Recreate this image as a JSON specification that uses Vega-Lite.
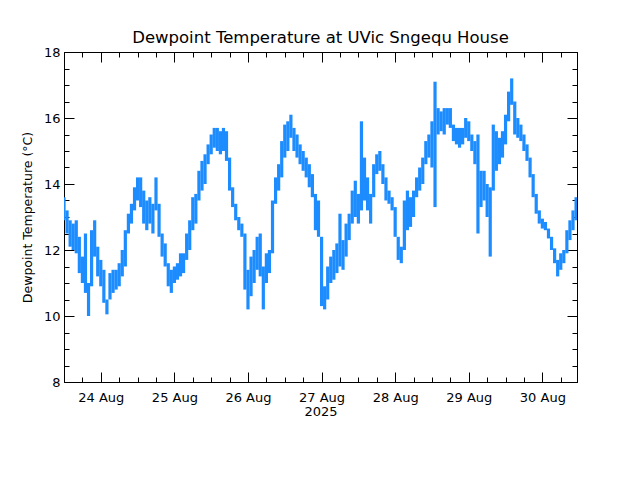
{
  "$schema": "https://vega.github.io/schema/vega-lite/v6.json",
  "autosize": "none",
  "width": 513,
  "height": 330,
  "padding": {"left": 64, "top": 52, "right": 63, "bottom": 98},
  "background": "white",
  "config": {
    "view": {"stroke": "black", "strokeWidth": 1},
    "font": "DejaVu Sans",
    "axis": {"labelFont": "DejaVu Sans", "titleFont": "DejaVu Sans", "labelFontSize": 13, "titleFontSize": 13, "titleFontWeight": "normal", "labelColor": "black", "titleColor": "black", "domainColor": "black", "tickColor": "black", "grid": false}
  },
  "title": {"text": "Dewpoint Temperature at UVic Sngequ House", "font": "DejaVu Sans", "fontSize": 16.5, "fontWeight": "normal", "color": "black", "offset": 0, "anchor": "middle"},
  "data": {"values": [
    {"t":"2025-08-23T12:00","lo":12.9,"hi":13.6},
    {"t":"2025-08-23T13:00","lo":12.5,"hi":13.2},
    {"t":"2025-08-23T14:00","lo":12.1,"hi":12.9},
    {"t":"2025-08-23T15:00","lo":12.0,"hi":12.8},
    {"t":"2025-08-23T16:00","lo":11.9,"hi":12.9},
    {"t":"2025-08-23T17:00","lo":11.3,"hi":12.4},
    {"t":"2025-08-23T18:00","lo":11.0,"hi":11.8},
    {"t":"2025-08-23T19:00","lo":10.7,"hi":12.5},
    {"t":"2025-08-23T20:00","lo":10.0,"hi":11.0},
    {"t":"2025-08-23T21:00","lo":10.9,"hi":12.6},
    {"t":"2025-08-23T22:00","lo":11.8,"hi":12.9},
    {"t":"2025-08-23T23:00","lo":11.2,"hi":12.1},
    {"t":"2025-08-24T00:00","lo":10.9,"hi":11.7},
    {"t":"2025-08-24T01:00","lo":10.4,"hi":11.4},
    {"t":"2025-08-24T02:00","lo":10.05,"hi":10.5},
    {"t":"2025-08-24T03:00","lo":10.5,"hi":11.3},
    {"t":"2025-08-24T04:00","lo":10.7,"hi":11.4},
    {"t":"2025-08-24T05:00","lo":10.8,"hi":11.4},
    {"t":"2025-08-24T06:00","lo":10.9,"hi":11.6},
    {"t":"2025-08-24T07:00","lo":11.2,"hi":12.0},
    {"t":"2025-08-24T08:00","lo":11.5,"hi":12.6},
    {"t":"2025-08-24T09:00","lo":12.5,"hi":13.1},
    {"t":"2025-08-24T10:00","lo":12.8,"hi":13.4},
    {"t":"2025-08-24T11:00","lo":13.2,"hi":13.9},
    {"t":"2025-08-24T12:00","lo":13.5,"hi":14.2},
    {"t":"2025-08-24T13:00","lo":13.3,"hi":14.2},
    {"t":"2025-08-24T14:00","lo":12.8,"hi":13.8},
    {"t":"2025-08-24T15:00","lo":12.6,"hi":13.5},
    {"t":"2025-08-24T16:00","lo":12.8,"hi":13.6},
    {"t":"2025-08-24T17:00","lo":12.5,"hi":13.4},
    {"t":"2025-08-24T18:00","lo":13.2,"hi":14.2},
    {"t":"2025-08-24T19:00","lo":12.4,"hi":13.4},
    {"t":"2025-08-24T20:00","lo":11.8,"hi":12.5},
    {"t":"2025-08-24T21:00","lo":11.5,"hi":12.2},
    {"t":"2025-08-24T22:00","lo":10.9,"hi":11.6},
    {"t":"2025-08-24T23:00","lo":10.7,"hi":11.4},
    {"t":"2025-08-25T00:00","lo":11.0,"hi":11.5},
    {"t":"2025-08-25T01:00","lo":11.1,"hi":11.6},
    {"t":"2025-08-25T02:00","lo":11.2,"hi":11.9},
    {"t":"2025-08-25T03:00","lo":11.3,"hi":11.9},
    {"t":"2025-08-25T04:00","lo":11.7,"hi":12.5},
    {"t":"2025-08-25T05:00","lo":12.0,"hi":12.9},
    {"t":"2025-08-25T06:00","lo":12.6,"hi":13.6},
    {"t":"2025-08-25T07:00","lo":12.8,"hi":13.7},
    {"t":"2025-08-25T08:00","lo":13.5,"hi":14.4},
    {"t":"2025-08-25T09:00","lo":13.8,"hi":14.7},
    {"t":"2025-08-25T10:00","lo":14.0,"hi":14.9},
    {"t":"2025-08-25T11:00","lo":14.6,"hi":15.2},
    {"t":"2025-08-25T12:00","lo":14.9,"hi":15.5},
    {"t":"2025-08-25T13:00","lo":15.1,"hi":15.7},
    {"t":"2025-08-25T14:00","lo":15.0,"hi":15.7},
    {"t":"2025-08-25T15:00","lo":14.9,"hi":15.6},
    {"t":"2025-08-25T16:00","lo":15.0,"hi":15.7},
    {"t":"2025-08-25T17:00","lo":14.7,"hi":15.6},
    {"t":"2025-08-25T18:00","lo":13.8,"hi":14.8},
    {"t":"2025-08-25T19:00","lo":13.3,"hi":13.9},
    {"t":"2025-08-25T20:00","lo":12.9,"hi":13.4},
    {"t":"2025-08-25T21:00","lo":12.6,"hi":13.0},
    {"t":"2025-08-25T22:00","lo":12.4,"hi":12.8},
    {"t":"2025-08-25T23:00","lo":10.8,"hi":12.5},
    {"t":"2025-08-26T00:00","lo":10.2,"hi":11.4},
    {"t":"2025-08-26T01:00","lo":10.6,"hi":11.8},
    {"t":"2025-08-26T02:00","lo":11.0,"hi":12.0},
    {"t":"2025-08-26T03:00","lo":11.4,"hi":12.4},
    {"t":"2025-08-26T04:00","lo":11.2,"hi":12.5},
    {"t":"2025-08-26T05:00","lo":10.2,"hi":11.5},
    {"t":"2025-08-26T06:00","lo":11.0,"hi":11.9},
    {"t":"2025-08-26T07:00","lo":11.3,"hi":12.0},
    {"t":"2025-08-26T08:00","lo":11.9,"hi":13.5},
    {"t":"2025-08-26T09:00","lo":13.4,"hi":14.2},
    {"t":"2025-08-26T10:00","lo":13.8,"hi":14.6},
    {"t":"2025-08-26T11:00","lo":14.2,"hi":15.3},
    {"t":"2025-08-26T12:00","lo":14.8,"hi":15.8},
    {"t":"2025-08-26T13:00","lo":15.0,"hi":15.9},
    {"t":"2025-08-26T14:00","lo":15.4,"hi":16.1},
    {"t":"2025-08-26T15:00","lo":15.0,"hi":15.7},
    {"t":"2025-08-26T16:00","lo":14.8,"hi":15.5},
    {"t":"2025-08-26T17:00","lo":14.6,"hi":15.2},
    {"t":"2025-08-26T18:00","lo":14.4,"hi":15.0},
    {"t":"2025-08-26T19:00","lo":14.2,"hi":14.8},
    {"t":"2025-08-26T20:00","lo":13.9,"hi":14.6},
    {"t":"2025-08-26T21:00","lo":13.6,"hi":14.3},
    {"t":"2025-08-26T22:00","lo":12.6,"hi":13.7},
    {"t":"2025-08-26T23:00","lo":12.4,"hi":13.5},
    {"t":"2025-08-27T00:00","lo":10.3,"hi":12.4},
    {"t":"2025-08-27T01:00","lo":10.2,"hi":10.9},
    {"t":"2025-08-27T02:00","lo":10.5,"hi":11.5},
    {"t":"2025-08-27T03:00","lo":11.0,"hi":11.8},
    {"t":"2025-08-27T04:00","lo":11.1,"hi":12.0},
    {"t":"2025-08-27T05:00","lo":11.3,"hi":12.2},
    {"t":"2025-08-27T06:00","lo":11.5,"hi":13.1},
    {"t":"2025-08-27T07:00","lo":11.4,"hi":12.3},
    {"t":"2025-08-27T08:00","lo":11.8,"hi":12.8},
    {"t":"2025-08-27T09:00","lo":12.3,"hi":13.1},
    {"t":"2025-08-27T10:00","lo":12.8,"hi":13.8},
    {"t":"2025-08-27T11:00","lo":13.0,"hi":14.1},
    {"t":"2025-08-27T12:00","lo":12.8,"hi":13.7},
    {"t":"2025-08-27T13:00","lo":13.2,"hi":15.9},
    {"t":"2025-08-27T14:00","lo":13.5,"hi":14.8},
    {"t":"2025-08-27T15:00","lo":13.2,"hi":14.2},
    {"t":"2025-08-27T16:00","lo":12.8,"hi":13.7},
    {"t":"2025-08-27T17:00","lo":13.6,"hi":14.6},
    {"t":"2025-08-27T18:00","lo":14.3,"hi":14.9},
    {"t":"2025-08-27T19:00","lo":14.4,"hi":15.0},
    {"t":"2025-08-27T20:00","lo":14.0,"hi":14.6},
    {"t":"2025-08-27T21:00","lo":13.5,"hi":14.2},
    {"t":"2025-08-27T22:00","lo":13.4,"hi":13.8},
    {"t":"2025-08-27T23:00","lo":13.2,"hi":13.6},
    {"t":"2025-08-28T00:00","lo":12.4,"hi":13.3},
    {"t":"2025-08-28T01:00","lo":11.7,"hi":12.4},
    {"t":"2025-08-28T02:00","lo":11.6,"hi":12.1},
    {"t":"2025-08-28T03:00","lo":12.0,"hi":13.5},
    {"t":"2025-08-28T04:00","lo":12.6,"hi":13.8},
    {"t":"2025-08-28T05:00","lo":12.7,"hi":13.6},
    {"t":"2025-08-28T06:00","lo":13.0,"hi":13.8},
    {"t":"2025-08-28T07:00","lo":13.6,"hi":14.2},
    {"t":"2025-08-28T08:00","lo":13.8,"hi":14.5},
    {"t":"2025-08-28T09:00","lo":14.0,"hi":14.8},
    {"t":"2025-08-28T10:00","lo":14.6,"hi":15.3},
    {"t":"2025-08-28T11:00","lo":14.8,"hi":15.5},
    {"t":"2025-08-28T12:00","lo":14.5,"hi":15.9},
    {"t":"2025-08-28T13:00","lo":13.3,"hi":17.1},
    {"t":"2025-08-28T14:00","lo":15.5,"hi":16.3},
    {"t":"2025-08-28T15:00","lo":15.6,"hi":16.2},
    {"t":"2025-08-28T16:00","lo":15.5,"hi":16.3},
    {"t":"2025-08-28T17:00","lo":15.8,"hi":16.3},
    {"t":"2025-08-28T18:00","lo":15.7,"hi":16.3},
    {"t":"2025-08-28T19:00","lo":15.3,"hi":15.8},
    {"t":"2025-08-28T20:00","lo":15.2,"hi":15.7},
    {"t":"2025-08-28T21:00","lo":15.1,"hi":15.7},
    {"t":"2025-08-28T22:00","lo":15.2,"hi":15.7},
    {"t":"2025-08-28T23:00","lo":15.4,"hi":16.0},
    {"t":"2025-08-29T00:00","lo":15.3,"hi":15.9},
    {"t":"2025-08-29T01:00","lo":15.0,"hi":15.5},
    {"t":"2025-08-29T02:00","lo":14.6,"hi":15.3},
    {"t":"2025-08-29T03:00","lo":12.5,"hi":15.5},
    {"t":"2025-08-29T04:00","lo":13.3,"hi":14.4},
    {"t":"2025-08-29T05:00","lo":13.5,"hi":14.4},
    {"t":"2025-08-29T06:00","lo":13.0,"hi":14.0},
    {"t":"2025-08-29T07:00","lo":11.8,"hi":13.9},
    {"t":"2025-08-29T08:00","lo":13.8,"hi":15.8},
    {"t":"2025-08-29T09:00","lo":14.4,"hi":15.6},
    {"t":"2025-08-29T10:00","lo":14.6,"hi":15.4},
    {"t":"2025-08-29T11:00","lo":14.8,"hi":15.6},
    {"t":"2025-08-29T12:00","lo":15.2,"hi":16.1},
    {"t":"2025-08-29T13:00","lo":15.9,"hi":16.8},
    {"t":"2025-08-29T14:00","lo":16.4,"hi":17.2},
    {"t":"2025-08-29T15:00","lo":15.5,"hi":16.5},
    {"t":"2025-08-29T16:00","lo":15.4,"hi":16.0},
    {"t":"2025-08-29T17:00","lo":15.3,"hi":15.8},
    {"t":"2025-08-29T18:00","lo":15.0,"hi":15.5},
    {"t":"2025-08-29T19:00","lo":14.7,"hi":15.2},
    {"t":"2025-08-29T20:00","lo":14.2,"hi":14.8},
    {"t":"2025-08-29T21:00","lo":13.6,"hi":14.3},
    {"t":"2025-08-29T22:00","lo":13.1,"hi":13.7},
    {"t":"2025-08-29T23:00","lo":12.8,"hi":13.2},
    {"t":"2025-08-30T00:00","lo":12.65,"hi":12.95},
    {"t":"2025-08-30T01:00","lo":12.6,"hi":12.85},
    {"t":"2025-08-30T02:00","lo":12.35,"hi":12.65},
    {"t":"2025-08-30T03:00","lo":12.0,"hi":12.4},
    {"t":"2025-08-30T04:00","lo":11.6,"hi":12.05},
    {"t":"2025-08-30T05:00","lo":11.2,"hi":11.7},
    {"t":"2025-08-30T06:00","lo":11.4,"hi":11.9},
    {"t":"2025-08-30T07:00","lo":11.6,"hi":12.0},
    {"t":"2025-08-30T08:00","lo":11.9,"hi":12.6},
    {"t":"2025-08-30T09:00","lo":12.3,"hi":12.9},
    {"t":"2025-08-30T10:00","lo":12.6,"hi":13.2},
    {"t":"2025-08-30T11:00","lo":12.9,"hi":13.6}
  ]},
  "layer": [
    {
      "mark": {"type": "rule", "strokeWidth": 3.2, "color": "#1C8CFF", "clip": true},
      "encoding": {
        "x": {"field": "t", "type": "temporal",
          "scale": {"domain": [{"year": 2025, "month": 8, "date": 23, "hours": 12}, {"year": 2025, "month": 8, "date": 30, "hours": 11, "minutes": 18}]},
          "axis": {"orient": "bottom", "tickCount": {"interval": "day", "step": 1}, "format": "%d %b", "labelOverlap": false, "labelFlush": false,
            "tickSize": -10, "labelPadding": 19, "title": "2025", "titlePadding": 1}},
        "y": {"field": "lo", "type": "quantitative", "scale": {"domain": [8, 18], "nice": false, "zero": false},
          "axis": {"orient": "left", "values": [8, 10, 12, 14, 16, 18], "tickSize": -10, "labelPadding": 14,
            "title": "Dewpoint Temperature (°C)", "titleFontSize": 12.5, "titlePadding": 9}},
        "y2": {"field": "hi"}
      }
    },
    {
      "mark": {"type": "rule", "opacity": 0},
      "encoding": {
        "x": {"field": "t", "type": "temporal",
          "axis": {"orient": "bottom", "values": [
            {"year": 2025, "month": 8, "date": 23, "hours": 18}, {"year": 2025, "month": 8, "date": 24, "hours": 6}, {"year": 2025, "month": 8, "date": 24, "hours": 12}, {"year": 2025, "month": 8, "date": 24, "hours": 18},
            {"year": 2025, "month": 8, "date": 25, "hours": 6}, {"year": 2025, "month": 8, "date": 25, "hours": 12}, {"year": 2025, "month": 8, "date": 25, "hours": 18},
            {"year": 2025, "month": 8, "date": 26, "hours": 6}, {"year": 2025, "month": 8, "date": 26, "hours": 12}, {"year": 2025, "month": 8, "date": 26, "hours": 18},
            {"year": 2025, "month": 8, "date": 27, "hours": 6}, {"year": 2025, "month": 8, "date": 27, "hours": 12}, {"year": 2025, "month": 8, "date": 27, "hours": 18},
            {"year": 2025, "month": 8, "date": 28, "hours": 6}, {"year": 2025, "month": 8, "date": 28, "hours": 12}, {"year": 2025, "month": 8, "date": 28, "hours": 18},
            {"year": 2025, "month": 8, "date": 29, "hours": 6}, {"year": 2025, "month": 8, "date": 29, "hours": 12}, {"year": 2025, "month": 8, "date": 29, "hours": 18},
            {"year": 2025, "month": 8, "date": 30, "hours": 6}],
            "labels": false, "title": null, "tickSize": -5, "domain": false}},
        "y": {"field": "lo", "type": "quantitative",
          "axis": {"orient": "left", "values": [8.5, 9, 9.5, 10.5, 11, 11.5, 12.5, 13, 13.5, 14.5, 15, 15.5, 16.5, 17, 17.5], "labels": false, "title": null, "tickSize": -5, "domain": false}},
        "y2": {"field": "hi"}
      }
    },
    {
      "mark": {"type": "rule", "opacity": 0},
      "encoding": {
        "x": {"field": "t", "type": "temporal",
          "axis": {"orient": "top", "tickCount": {"interval": "day", "step": 1}, "labels": false, "title": null, "tickSize": -10}},
        "y": {"field": "lo", "type": "quantitative",
          "axis": {"orient": "right", "values": [8, 10, 12, 14, 16, 18], "labels": false, "title": null, "tickSize": -10}},
        "y2": {"field": "hi"}
      }
    },
    {
      "mark": {"type": "rule", "opacity": 0},
      "encoding": {
        "x": {"field": "t", "type": "temporal",
          "axis": {"orient": "top", "values": [
            {"year": 2025, "month": 8, "date": 23, "hours": 18}, {"year": 2025, "month": 8, "date": 24, "hours": 6}, {"year": 2025, "month": 8, "date": 24, "hours": 12}, {"year": 2025, "month": 8, "date": 24, "hours": 18},
            {"year": 2025, "month": 8, "date": 25, "hours": 6}, {"year": 2025, "month": 8, "date": 25, "hours": 12}, {"year": 2025, "month": 8, "date": 25, "hours": 18},
            {"year": 2025, "month": 8, "date": 26, "hours": 6}, {"year": 2025, "month": 8, "date": 26, "hours": 12}, {"year": 2025, "month": 8, "date": 26, "hours": 18},
            {"year": 2025, "month": 8, "date": 27, "hours": 6}, {"year": 2025, "month": 8, "date": 27, "hours": 12}, {"year": 2025, "month": 8, "date": 27, "hours": 18},
            {"year": 2025, "month": 8, "date": 28, "hours": 6}, {"year": 2025, "month": 8, "date": 28, "hours": 12}, {"year": 2025, "month": 8, "date": 28, "hours": 18},
            {"year": 2025, "month": 8, "date": 29, "hours": 6}, {"year": 2025, "month": 8, "date": 29, "hours": 12}, {"year": 2025, "month": 8, "date": 29, "hours": 18},
            {"year": 2025, "month": 8, "date": 30, "hours": 6}],
            "labels": false, "title": null, "tickSize": -5, "domain": false}},
        "y": {"field": "lo", "type": "quantitative",
          "axis": {"orient": "right", "values": [8.5, 9, 9.5, 10.5, 11, 11.5, 12.5, 13, 13.5, 14.5, 15, 15.5, 16.5, 17, 17.5], "labels": false, "title": null, "tickSize": -5, "domain": false}},
        "y2": {"field": "hi"}
      }
    }
  ],
  "resolve": {"axis": {"x": "independent", "y": "independent"}}
}
